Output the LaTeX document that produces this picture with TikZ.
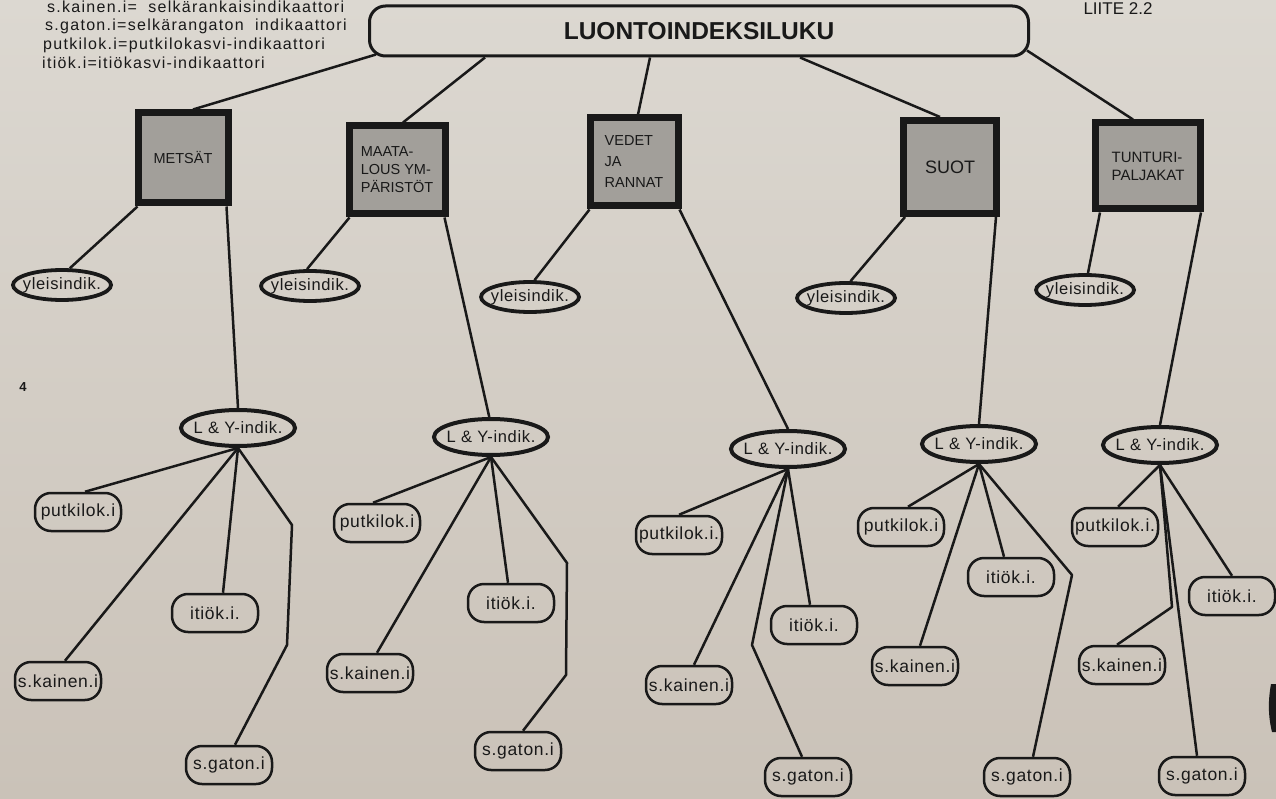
\documentclass[tikz,border=0pt]{standalone}
\usepackage{fontspec}
\setmainfont{Liberation Sans}
\newfontfamily\wideA[LetterSpace=8]{Liberation Sans}
\newfontfamily\wideB[LetterSpace=4]{Liberation Sans}
\usetikzlibrary{shapes.geometric}
\definecolor{paperTop}{RGB}{220,216,209}
\definecolor{paperBot}{RGB}{202,194,184}
\definecolor{sqgray}{RGB}{162,159,154}
\definecolor{ink}{RGB}{25,25,25}
\begin{document}
\begin{tikzpicture}[x=1pt,y=-1pt,
  conn/.style={draw=ink,line width=2.5pt,line join=round},
  topbox/.style={draw=ink,line width=3pt,rounded corners=16pt,minimum width=659pt,minimum height=50pt,inner sep=0pt,text=ink,font=\bfseries\fontsize{24.5}{24}\selectfont},
  sqbox/.style={draw=ink,line width=7pt,fill=sqgray,inner sep=0pt,align=left,text=ink,font=\fontsize{14.5}{19}\selectfont},
  genell/.style={ellipse,draw=ink,line width=3.8pt,minimum width=98pt,minimum height=30pt,inner xsep=-7pt,inner ysep=0pt,text=ink,font=\wideB\fontsize{16.5}{16}\selectfont},
  lyell/.style={ellipse,draw=ink,line width=4pt,minimum width=114pt,minimum height=36pt,inner xsep=-6pt,inner ysep=0pt,text=ink,font=\wideB\fontsize{16.5}{16}\selectfont},
  leaf/.style={draw=ink,line width=2.5pt,rounded corners=16pt,minimum width=86pt,minimum height=38pt,inner sep=0pt,text=ink,font=\wideB\fontsize{17.5}{17}\selectfont},
  legend/.style={anchor=base west,inner sep=0pt,text=ink,font=\wideA\fontsize{16}{16}\selectfont},
]
\useasboundingbox (0,0) rectangle (1276,799);
\shade[top color=paperTop,bottom color=paperBot] (0,0) rectangle (1276,799);

% legend
\node[legend] (lg1) at (47,13) {s.kainen.i=\ \ selkärankaisindikaattori};
\node[legend] (lg2) at (45,31) {s.gaton.i=selkärangaton\ \ indikaattori};
\node[legend] (lg3) at (43,50) {putkilok.i=putkilokasvi-indikaattori};
\node[legend] (lg4) at (42,69) {itiök.i=itiökasvi-indikaattori};
\node[anchor=base,inner sep=0pt,text=ink,font=\fontsize{17}{17}\selectfont] (liite) at (1118,15) {LIITE 2.2};
\node[inner sep=0pt,text=ink,font=\bfseries\fontsize{13}{13}\selectfont] (four) at (23,387) {4};
\fill[ink] (1271,684) .. controls (1268,700) and (1268,716) .. (1272,732) -- (1276,732) -- (1276,684) -- cycle;

% top
\node[topbox] (top) at (699,31) {LUONTOINDEKSILUKU};

% squares
\node[sqbox,minimum width=90pt,minimum height=90pt] (m1) at (183,158) {METSÄT};
\node[sqbox,minimum width=96pt,minimum height=88pt,font=\fontsize{14.5}{18}\selectfont] (m2) at (397,170) {MAATA-\\LOUS YM-\\PÄRISTÖT};
\node[sqbox,minimum width=88pt,minimum height=88pt,font=\fontsize{14.5}{21}\selectfont] (m3) at (634,162) {VEDET\\JA\\RANNAT};
\node[sqbox,minimum width=93pt,minimum height=93pt,font=\fontsize{18}{18}\selectfont] (m4) at (950,167) {SUOT};
\node[sqbox,minimum width=105pt,minimum height=86pt,font=\fontsize{15}{18}\selectfont] (m5) at (1148,166) {TUNTURI-\\PALJAKAT};

% general indicators
\node[genell] (g1) at (62,285) {yleisindik.};
\node[genell] (g2) at (310,286) {yleisindik.};
\node[genell] (g3) at (530,297) {yleisindik.};
\node[genell] (g4) at (846,298) {yleisindik.};
\node[genell] (g5) at (1085,290) {yleisindik.};

% L & Y indicators
\node[lyell] (l1) at (238,428) {L \& Y-indik.};
\node[lyell] (l2) at (491,437) {L \& Y-indik.};
\node[lyell] (l3) at (788,449) {L \& Y-indik.};
\node[lyell] (l4) at (979,444) {L \& Y-indik.};
\node[lyell] (l5) at (1160,445) {L \& Y-indik.};

% leaves
\node[leaf] (p1) at (78,512) {putkilok.i};
\node[leaf] (i1) at (215,613) {itiök.i.};
\node[leaf] (k1) at (58,681) {s.kainen.i};
\node[leaf] (s1) at (229,765) {s.gaton.i};

\node[leaf] (p2) at (377,523) {putkilok.i};
\node[leaf] (i2) at (511,603) {itiök.i.};
\node[leaf] (k2) at (370,673) {s.kainen.i};
\node[leaf] (s2) at (518,751) {s.gaton.i};

\node[leaf] (p3) at (679,535) {putkilok.i.};
\node[leaf] (i3) at (814,625) {itiök.i.};
\node[leaf] (k3) at (689,685) {s.kainen.i};
\node[leaf] (s3) at (808,777) {s.gaton.i};

\node[leaf] (p4) at (901,527) {putkilok.i};
\node[leaf] (i4) at (1011,577) {itiök.i.};
\node[leaf] (k4) at (915,666) {s.kainen.i};
\node[leaf] (s4) at (1027,777) {s.gaton.i};

\node[leaf] (p5) at (1115,527) {putkilok.i.};
\node[leaf] (i5) at (1232,596) {itiök.i.};
\node[leaf] (k5) at (1122,665) {s.kainen.i};
\node[leaf] (s5) at (1202,776) {s.gaton.i};

% bend points
\coordinate (b1a) at (292,525);
\coordinate (b1b) at (287,645);
\coordinate (b2a) at (567,563);
\coordinate (b2b) at (566,675);
\coordinate (b3a) at (752,645);
\coordinate (b4a) at (1072,575);
\coordinate (b5a) at (1172,607);

% top -> squares
\draw[conn] ([xshift=8pt,yshift=3pt]top.south west) -- ([xshift=10pt]m1.north);
\draw[conn] ([xshift=-214pt]top.south) -- ([xshift=6pt]m2.north);
\draw[conn] ([xshift=-49pt]top.south) -- ([xshift=4pt]m3.north);
\draw[conn] ([xshift=101pt]top.south) -- ([xshift=-10pt]m4.north);
\draw[conn] ([xshift=-3pt,yshift=7pt]top.south east) -- ([xshift=-15pt]m5.north);

% squares -> general
\draw[conn] ([xshift=3pt]m1.south west) -- (g1.65);
\draw[conn] ([xshift=4pt]m2.south west) -- (g2.100);
\draw[conn] ([xshift=3pt]m3.south west) -- (g3.75);
\draw[conn] ([xshift=5pt]m4.south west) -- (g4.75);
\draw[conn] ([xshift=8pt]m5.south west) -- (g5.80);

% squares -> L&Y
\draw[conn] ([xshift=-5pt]m1.south east) -- (l1.north);
\draw[conn] ([xshift=-4pt]m2.south east) -- (l2.95);
\draw[conn] ([xshift=-2pt]m3.south east) -- (l3.north);
\draw[conn] ([xshift=-4pt]m4.south east) -- (l4.north);
\draw[conn] ([xshift=-3pt]m5.south east) -- (l5.north);

% group 1
\draw[conn] (l1.south) -- ([xshift=7pt]p1.north);
\draw[conn] (l1.south) -- ([xshift=7pt]k1.north);
\draw[conn] (l1.south) -- ([xshift=8pt]i1.north);
\draw[conn] (l1.south) -- (b1a) -- (b1b) -- ([xshift=6pt]s1.north);
% group 2
\draw[conn] (l2.south) -- ([xshift=-4pt]p2.north);
\draw[conn] (l2.south) -- ([xshift=7pt]k2.north);
\draw[conn] (l2.south) -- ([xshift=-3pt]i2.north);
\draw[conn] (l2.south) -- (b2a) -- (b2b) -- ([xshift=5pt]s2.north);
% group 3
\draw[conn] (l3.south) -- (p3.north);
\draw[conn] (l3.south) -- ([xshift=5pt]k3.north);
\draw[conn] (l3.south) -- ([xshift=-4pt]i3.north);
\draw[conn] (l3.south) -- (b3a) -- ([xshift=-6pt]s3.north);
% group 4
\draw[conn] (l4.south) -- ([xshift=7pt]p4.north);
\draw[conn] (l4.south) -- ([xshift=5pt]k4.north);
\draw[conn] (l4.south) -- ([xshift=-7pt]i4.north);
\draw[conn] (l4.south) -- (b4a) -- ([xshift=6pt]s4.north);
% group 5
\draw[conn] (l5.south) -- ([xshift=3pt]p5.north);
\draw[conn] (l5.south) -- (i5.north);
\draw[conn] (l5.south) -- (b5a) -- ([xshift=-5pt]k5.north);
\draw[conn] (l5.south) -- ([xshift=-5pt]s5.north);
\end{tikzpicture}
\end{document}
